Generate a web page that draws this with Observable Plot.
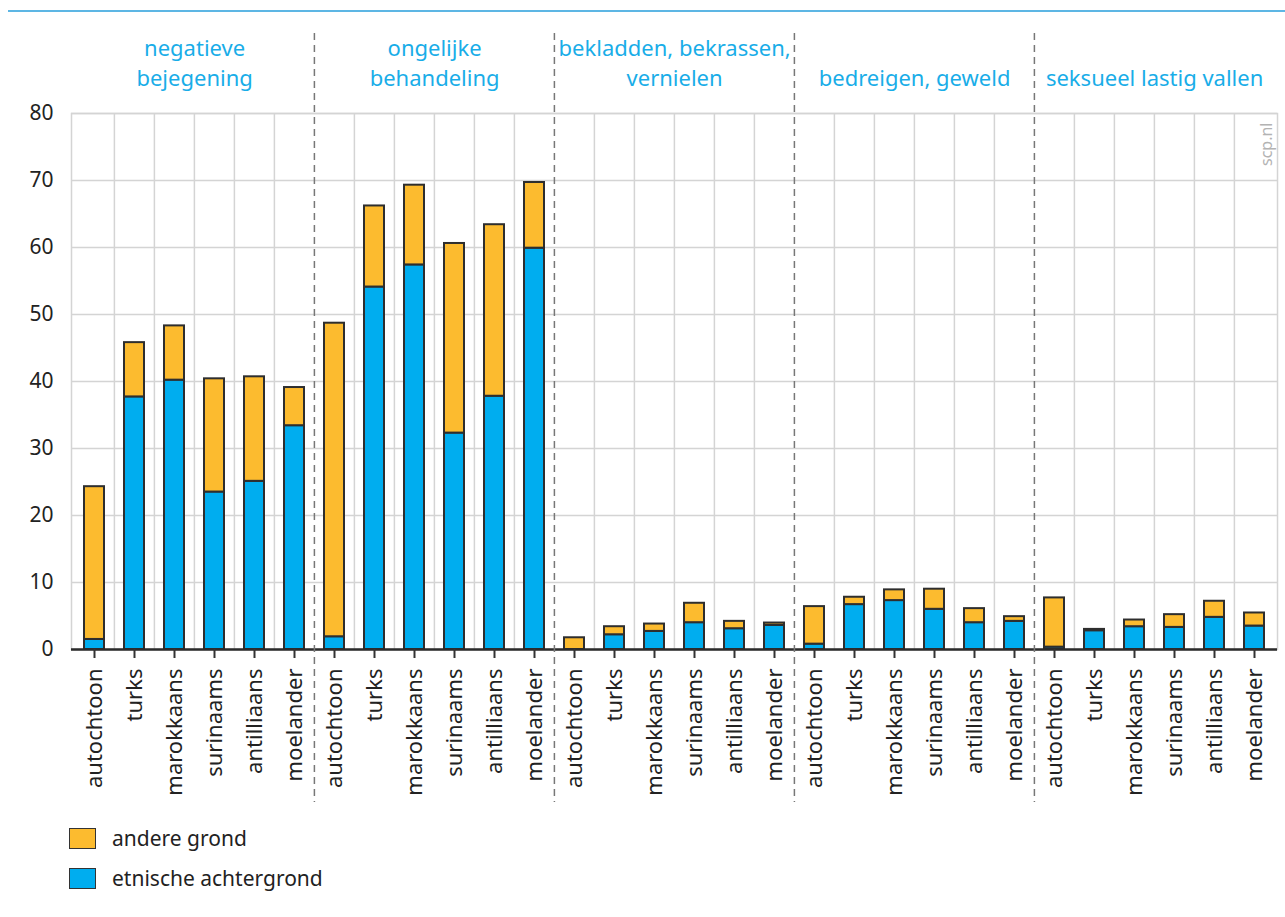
<!DOCTYPE html>
<html>
<head>
<meta charset="utf-8">
<script src="https://cdn.jsdelivr.net/npm/d3@7"></script>
<script src="https://cdn.jsdelivr.net/npm/@observablehq/plot@0.6"></script>
<style>
  html, body { margin: 0; padding: 0; background: #fff; width: 1285px; height: 917px; overflow: hidden; }
  body { position: relative; font-family: "Noto Sans", sans-serif; color: #222; }
  #topline { position: absolute; left: 8px; top: 10px; width: 1277px; height: 2px; background: #5db6e4; }
  #chart { position: absolute; left: 0; top: 12px; }
  #legend { position: absolute; left: 69px; top: 827px; }
  .row { display: flex; align-items: center; height: 22px; margin-bottom: 18px; }
  .sw { width: 25px; height: 19px; border: 1.5px solid #333; box-sizing: content-box; }
  .lab { margin-left: 16px; font-size: 21px; color: #222; line-height: 22px; }
</style>
</head>
<body>
<div id="topline"></div>
<div id="chart"></div>
<div id="legend"></div>
<script>
const groups = ["negatieve\nbejegening", "ongelijke\nbehandeling", "bekladden, bekrassen,\nvernielen", "bedreigen, geweld", "seksueel lastig vallen"];
const categories = ["autochtoon", "turks", "marokkaans", "surinaams", "antilliaans", "moelander"];
const seriesNames = ["etnische achtergrond", "andere grond"];
const etnischeAchtergrond = [
  1.5, 37.7, 40.2, 23.5, 25.1, 33.4,
  1.9, 54.1, 57.4, 32.3, 37.8, 59.9,
  0, 2.2, 2.7, 4.0, 3.1, 3.6,
  0.8, 6.7, 7.3, 6.0, 4.0, 4.2,
  0.35, 2.8, 3.4, 3.3, 4.8, 3.5
];
const andereGrond = [
  22.8, 8.1, 8.1, 16.9, 15.6, 5.7,
  46.8, 12.1, 11.9, 28.3, 25.6, 9.8,
  1.75, 1.2, 1.1, 2.9, 1.1, 0.35,
  5.6, 1.1, 1.6, 3.0, 2.1, 0.7,
  7.35, 0.2, 1.0, 1.9, 2.4, 1.95
];
const yTicks = [0, 10, 20, 30, 40, 50, 60, 70, 80];
const colors = ["#00adef", "#fcbb2f"];

const keys = [];
groups.forEach((g, gi) => categories.forEach(c => keys.push(gi + "|" + c)));
const rows = [];
keys.forEach((k, i) => {
  rows.push({key: k, series: seriesNames[0], value: etnischeAchtergrond[i]});
  rows.push({key: k, series: seriesNames[1], value: andereGrond[i]});
});

const width = 1285, height = 798, mL = 71, mR = 8, mT = 101, mB = 161;
const step = (width - mL - mR) / keys.length;
const grid = "#d4d4d4";

const chart = Plot.plot({
  width, height,
  marginLeft: mL, marginRight: mR, marginTop: mT, marginBottom: mB,
  style: {fontFamily: "'Noto Sans', sans-serif", fontSize: "21px", color: "#222", background: "transparent", overflow: "visible"},
  x: {domain: keys, paddingInner: 0.5, paddingOuter: 0.25, label: null},
  y: {domain: [0, 80], label: null},
  color: {domain: seriesNames, range: colors},
  marks: [
    Plot.frame({stroke: grid, strokeWidth: 1.5}),
    Plot.gridY(yTicks, {stroke: grid, strokeOpacity: 1, strokeWidth: 1.5}),
    Plot.ruleX(keys.filter((k, i) => i % 6 !== 0), {x: d => d, dx: -step / 2, stroke: grid, strokeWidth: 1.5}),
    Plot.barY(rows, {x: "key", y: "value", fill: "series", z: "series", order: seriesNames, stroke: "#2e2e2e", strokeWidth: 2}),
    Plot.ruleY([0], {stroke: "#2b2b2b", strokeWidth: 2.5}),
    Plot.ruleX(keys.filter((k, i) => i % 6 === 0 && i > 0), {x: d => d, dx: -step / 2, stroke: "#777", strokeWidth: 1.5, strokeDasharray: "7,5", insetTop: -80, insetBottom: -153}),
    Plot.axisX({tickRotate: -90, tickSize: 9, tickPadding: 10, tickFormat: d => d.split("|")[1], fontSize: 22, stroke: "#333", strokeWidth: 2, label: null}),
    Plot.axisY(yTicks, {tickSize: 0, tickPadding: 18, fontSize: 21, label: null}),
    Plot.text(groups, {x: (d, i) => keys[i * 6 + 2], dx: step / 2, frameAnchor: "top", dy: -28, lineAnchor: "bottom", fill: "#19ade8", fontSize: 22, lineHeight: 1.36, text: d => d}),
    Plot.text(["scp.nl"], {frameAnchor: "top-right", rotate: -90, textAnchor: "end", dx: -17, dy: 9, fill: "#b3b3b3", fontSize: 16, text: d => d})
  ]
});
document.getElementById("chart").appendChild(chart);

const legend = document.getElementById("legend");
[[seriesNames[1], colors[1]], [seriesNames[0], colors[0]]].forEach(([name, col]) => {
  const row = document.createElement("div");
  row.className = "row";
  const sw = document.createElement("div");
  sw.className = "sw";
  sw.style.background = col;
  const lab = document.createElement("div");
  lab.className = "lab";
  lab.textContent = name;
  row.appendChild(sw);
  row.appendChild(lab);
  legend.appendChild(row);
});
</script>
</body>
</html>
